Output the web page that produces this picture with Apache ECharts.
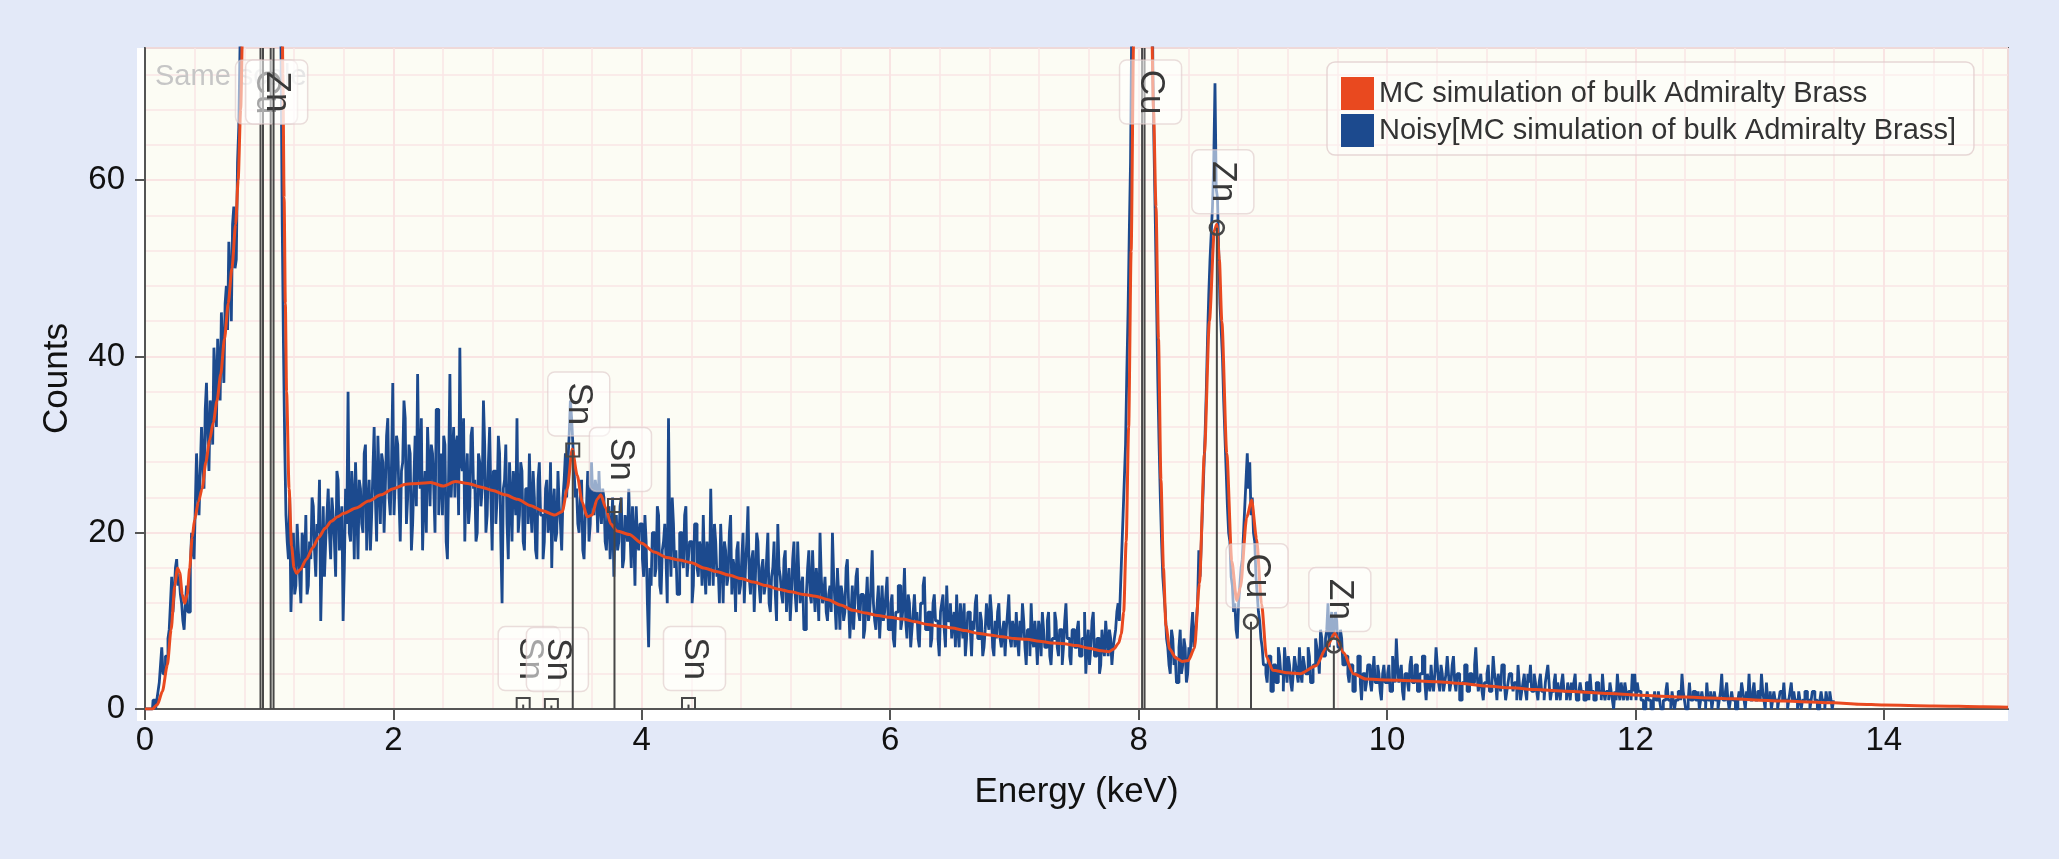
<!DOCTYPE html>
<html>
<head>
<meta charset="utf-8">
<title>Admiralty Brass spectrum</title>
<script src="https://cdn.jsdelivr.net/npm/echarts@6/dist/echarts.min.js"></script>
<style>
  html, body { margin: 0; padding: 0; background: #e3e9f8; }
  #chart { width: 2059px; height: 859px; }
</style>
</head>
<body>
<div id="chart"></div>
<script>
// axis ranges
const xMax = 15;
const yMax = 75;

// noisy spectrum: one count per 10 eV channel, starting at 0 keV
const channelWidth = 0.01;
const noisyCounts = [
  // 0.0 - 0.49
  0,0,0,0,0,0,0,1,1,0,1,2,3,5,7,4,4,6,6,8,9,12,15,11,13,16,17,14,15,13,12,10,9,12,14,11,11,16,20,18,17,23,29,25,22,27,32,28,25,34,
  // 0.5 - 0.99
  37,31,27,35,34,30,41,38,32,42,39,35,45,41,37,46,48,43,53,49,44,55,57,50,51,62,66,75,95,130,170,240,320,420,520,650,780,900,1050,1150,1250,1280,1300,1220,1150,1050,980,950,930,940,
  // 1.0 - 1.49
  960,940,900,780,640,480,330,230,150,110,75,55,41,30,22,19,17,24,11,16,20,13,14,21,18,15,12,20,19,16,22,13,14,19,17,24,23,18,15,21,20,26,10,17,23,15,19,22,25,20,
  // 1.5 - 1.99
  17,24,22,19,15,27,26,18,21,23,10,16,25,21,36,20,19,27,24,17,28,23,17,26,25,21,20,29,30,18,23,26,18,22,27,32,24,19,31,26,21,29,28,20,25,31,33,24,22,28,
  // 2.0 - 2.49
  37,22,26,31,30,24,19,27,28,35,33,21,24,30,29,18,21,26,31,23,38,27,25,33,18,24,27,20,32,28,23,30,29,25,20,34,34,22,26,29,22,31,30,19,17,27,38,24,28,32,
  // 2.5 - 2.99
  24,30,31,22,41,28,27,33,19,26,29,21,23,31,32,25,26,19,20,29,28,23,25,35,30,20,22,28,32,24,18,27,27,21,24,31,29,19,12,25,26,30,21,17,28,24,19,27,25,22,
  // 3.0 - 3.49
  33,20,22,28,27,19,18,25,25,21,29,23,20,27,24,18,17,26,28,22,22,17,19,25,26,20,21,28,16,23,25,19,20,27,23,21,18,24,26,29,24,28,31,35,33,30,27,24,25,21,
  // 3.5 - 3.99
  20,24,26,18,17,22,23,27,19,21,28,24,22,26,25,20,27,23,21,25,24,19,18,22,23,17,20,24,15,21,22,18,19,23,24,16,17,22,21,19,25,20,16,23,20,14,23,19,18,21,
  // 4.0 - 4.49
  21,17,15,22,19,12,7,16,14,20,20,15,16,23,22,14,13,18,19,21,17,12,33,19,15,24,21,16,18,13,13,20,20,17,16,22,23,15,17,19,19,12,14,21,21,16,15,19,18,14,
  // 4.5 - 4.99
  22,16,13,19,17,14,25,18,14,21,19,15,16,12,21,17,12,19,18,14,15,20,22,13,17,16,11,18,19,13,14,17,20,12,16,19,23,15,13,17,18,11,15,20,19,14,12,16,17,13,
  // 5.0 - 5.49
  14,17,20,12,11,15,16,19,13,10,21,16,15,13,12,17,18,11,14,16,10,13,17,19,13,11,19,15,12,14,15,9,9,13,16,18,13,12,18,14,11,16,14,10,20,15,12,13,15,11,
  // 5.5 - 5.99
  10,13,14,11,20,15,12,9,16,13,9,14,13,10,11,16,17,12,8,11,14,9,12,15,16,11,10,13,13,8,9,12,15,10,11,14,18,12,10,9,12,14,8,11,14,10,11,13,15,9,
  // 6.0 - 6.49
  9,12,13,8,7,11,11,14,14,9,10,12,16,10,8,13,12,7,9,11,13,10,11,8,7,12,12,14,15,9,9,11,11,7,8,12,13,10,10,8,6,11,12,13,9,7,14,10,10,12,
  // 6.5 - 6.99
  8,10,11,7,13,9,7,12,10,8,12,6,8,11,11,9,6,10,9,12,13,8,8,11,10,6,7,9,12,10,9,13,11,7,6,10,8,11,12,8,7,9,10,6,9,11,13,8,7,10,
  // 7.0 - 7.49
  9,7,11,8,6,10,8,12,10,7,5,9,9,6,12,8,7,10,8,5,10,9,6,11,9,7,7,10,11,6,5,8,8,11,10,7,6,9,9,5,7,10,12,8,8,6,5,9,9,7,
  // 7.5 - 7.99
  7,9,10,6,6,8,8,11,4,7,9,5,7,10,11,6,6,8,8,4,5,9,7,6,10,8,6,9,8,5,7,8,9,11,12,10,14,18,22,26,30,38,45,54,62,78,95,115,140,200,
  // 8.0 - 8.49
  260,330,380,410,420,390,350,290,220,170,120,95,72,63,55,46,37,30,24,19,15,13,11,8,7,5,4,9,8,5,6,3,3,7,9,4,5,8,7,3,4,7,6,9,11,7,8,10,12,18,
  // 8.5 - 8.99
  15,19,23,27,31,36,42,47,51,54,57,62,71,59,58,52,46,43,40,35,31,27,23,20,19,15,14,11,12,9,8,12,14,16,17,20,23,26,29,25,28,22,24,20,19,15,13,11,10,8,
  // 9.0 - 9.49
  7,5,5,4,3,6,6,2,2,5,5,3,3,7,6,4,4,2,7,5,3,6,5,3,2,4,6,5,4,3,7,4,3,6,5,4,4,7,6,3,3,5,5,8,7,6,4,9,8,6,
  // 9.5 - 9.99
  6,8,9,12,7,10,11,8,9,11,10,7,7,9,8,5,5,6,6,4,3,5,5,2,2,4,4,6,6,3,1,4,4,2,3,5,5,3,2,4,6,3,3,5,4,2,1,4,5,3,
  // 10.0 - 10.49
  3,4,5,2,2,6,4,3,8,5,3,4,5,2,1,4,4,3,2,5,6,3,3,5,5,2,2,4,4,6,6,3,1,4,3,2,5,3,2,4,7,5,3,2,5,4,2,3,4,6,
  // 10.5 - 10.99
  4,2,3,5,6,3,2,4,4,1,1,3,3,5,5,2,2,4,4,3,3,5,7,4,2,3,4,2,1,3,3,4,5,2,2,3,6,4,3,1,4,3,2,5,5,3,1,2,3,4,
  // 11.0 - 11.49
  4,3,2,3,3,1,5,3,1,2,3,4,2,1,4,3,5,2,2,4,3,2,1,3,4,2,2,1,3,4,5,3,1,2,2,3,4,1,3,2,1,3,4,2,2,1,3,2,1,3,
  // 11.5 - 11.99
  2,3,4,1,1,2,3,2,2,1,1,3,3,1,4,2,2,1,1,3,3,2,2,1,4,2,1,2,2,1,3,2,1,0,2,1,4,2,1,3,2,1,3,2,1,2,2,1,4,2,
  // 12.0 - 12.49
  4,1,3,2,2,1,1,0,0,1,2,1,1,0,0,1,2,1,1,2,1,0,0,1,1,2,3,1,1,0,2,1,0,1,1,2,2,1,4,2,1,0,0,1,3,1,1,2,2,1,
  // 12.5 - 12.99
  1,2,0,1,2,1,1,0,3,1,1,2,0,1,2,1,1,0,1,2,4,1,1,2,3,1,0,1,2,1,1,0,0,1,2,1,3,2,1,0,2,1,4,1,1,2,3,1,1,2,
  // 13.0 - 13.6
  2,1,4,2,1,0,3,1,1,2,0,1,2,1,1,0,1,2,2,1,3,1,1,0,1,2,3,1,2,1,1,0,2,1,0,1,1,2,2,1,1,0,1,2,2,1,1,0,0,1,2,1,1,0,2,1,1,2,1,0,1
];

// MC simulation curve
const mcEnergy = [
  0, 0.06, 0.1, 0.14, 0.18, 0.21, 0.24, 0.26, 0.28, 0.3, 0.32, 0.34, 0.36, 0.38, 0.4,
  0.43, 0.46, 0.49, 0.52, 0.55, 0.58, 0.61, 0.64, 0.67, 0.7, 0.73, 0.75, 0.77, 0.79, 0.81,
  0.85, 0.93, 1.01, 1.06, 1.09, 1.1, 1.11, 1.12, 1.13, 1.14, 1.16, 1.18, 1.2, 1.22, 1.25,
  1.3, 1.35, 1.4, 1.45, 1.5, 1.55, 1.6, 1.7, 1.8, 1.9, 2.0, 2.1, 2.2, 2.3, 2.4,
  2.5, 2.6, 2.7, 2.8, 2.9, 3.0, 3.1, 3.2, 3.3, 3.36, 3.4, 3.44, 3.48, 3.52, 3.56,
  3.6, 3.64, 3.67, 3.71, 3.75, 3.8, 3.9, 4.0, 4.1, 4.2, 4.3, 4.4, 4.5, 4.6, 4.7,
  4.8, 4.9, 5.0, 5.1, 5.2, 5.3, 5.4, 5.5, 5.6, 5.7, 5.8, 5.9, 6.0, 6.1, 6.2,
  6.3, 6.4, 6.5, 6.6, 6.7, 6.8, 6.9, 7.0, 7.1, 7.2, 7.3, 7.4, 7.5, 7.6, 7.7,
  7.76, 7.8, 7.84, 7.86, 7.88, 7.9, 7.92, 7.94, 7.96, 7.98, 8.04, 8.08, 8.1, 8.12, 8.14,
  8.16, 8.18, 8.2, 8.22, 8.25, 8.3, 8.35, 8.4, 8.45, 8.49, 8.53, 8.57, 8.61, 8.63, 8.65,
  8.67, 8.71, 8.75, 8.79, 8.82, 8.87, 8.91, 8.95, 8.99, 9.03, 9.08, 9.2, 9.3, 9.43, 9.51,
  9.58, 9.65, 9.73, 9.83, 10.0, 10.2, 10.4, 10.6, 10.8, 11.0, 11.2, 11.4, 11.6, 11.8, 12.0,
  12.2, 12.4, 12.6, 12.8, 13.0, 13.2, 13.4, 13.6, 13.8, 14.0, 14.4, 14.8, 15.0
];
const mcCounts = [
  0, 0, 0.5, 2, 5, 9, 14, 16, 15.5, 13, 12, 13, 16, 19.5, 21.5,
  23.5, 25, 28, 30.5, 32.5, 35, 38, 42, 46, 50, 55, 60, 68, 80, 110,
  200, 600, 500, 200, 110, 90, 72, 58, 46, 36, 25, 18.5, 16, 15.4, 15.8,
  17, 18.3, 19.5, 20.5, 21.3, 21.8, 22.2, 22.8, 23.6, 24.3, 25, 25.5, 25.6, 25.7, 25.3,
  25.8, 25.6, 25.2, 24.8, 24.3, 23.8, 23.1, 22.5, 22, 22.4, 25, 29.5, 26.5, 23.5, 21.8,
  22, 23.8, 24.3, 22.8, 21, 20.2, 19.8, 18.8, 17.8, 17.2, 16.9, 16.6, 16, 15.6, 15.2,
  14.8, 14.4, 14, 13.6, 13.3, 13, 12.8, 12.4, 11.8, 11.2, 10.9, 10.6, 10.4, 10.2, 9.9,
  9.6, 9.4, 9.2, 8.9, 8.6, 8.4, 8.2, 8, 7.9, 7.7, 7.5, 7.4, 7.2, 6.9, 6.6,
  6.5, 6.8, 7.5, 8.5, 11, 19, 32, 52, 76, 110, 400, 120, 82, 68, 57,
  42, 26, 16, 9.5, 6.8, 5.8, 5.4, 5.5, 6.9, 14.3, 29, 44, 54.3, 55, 51,
  44, 29, 16.8, 12.3, 13.8, 21.7, 23.7, 19.3, 11.9, 5.9, 4.4, 4.1, 4, 4.9, 6.9,
  8.6, 6.4, 4, 3.4, 3.3, 3.2, 3.1, 2.9, 2.6, 2.4, 2.2, 2.05, 1.9, 1.75, 1.6,
  1.45, 1.35, 1.25, 1.15, 1.0, 0.9, 0.8, 0.7, 0.55, 0.45, 0.35, 0.25, 0.2
];

// element line markers
const markerEnergy = [0.930, 0.950, 1.012, 1.035, 3.045, 3.272, 3.444, 3.78, 4.376, 8.028, 8.048, 8.63, 8.905, 9.572];
const markerHeight = [75, 75, 75, 75, 0.5, 0.4, 29.4, 23.1, 0.5, 75, 75, 54.6, 9.9, 7.2];
const markerLabel  = ['Cu', '', 'Zn', '', 'Sn', 'Sn', 'Sn', 'Sn', 'Sn', '', 'Cu', 'Zn', 'Cu', 'Zn'];
const markerSymbol = ['none', 'none', 'none', 'none', 'rect', 'rect', 'rect', 'rect', 'rect', 'none', 'none', 'circle', 'circle', 'circle'];

const mcName = 'MC simulation of bulk Admiralty Brass';
const noisyName = 'Noisy[MC simulation of bulk Admiralty Brass]';
const font = "'Liberation Sans', Arial, Helvetica, sans-serif";

const gridLeft = 145, gridTop = 48, gridRight = 51, gridBottom = 150;

const chart = echarts.init(document.getElementById('chart'));

// 数据转换
const noisyData = noisyCounts.map(function (c, i) {
  return [+(i * channelWidth).toFixed(2), c];
});
const mcData = mcEnergy.map(function (e, i) {
  return [e, mcCounts[i]];
});
const markerData = markerEnergy.map(function (e, i) {
  return [e, markerHeight[i]];
});

function renderMarker(params, api) {
  const i = params.dataIndex;
  const e = api.value(0);
  const h = Math.min(api.value(1), yMax);
  const base = api.coord([e, 0]);
  const top = api.coord([e, h]);
  const ink = '#474747';
  const children = [{
    type: 'line',
    shape: {x1: base[0], y1: base[1], x2: top[0], y2: top[1]},
    style: {stroke: ink, lineWidth: 2}
  }];
  const sym = markerSymbol[i];
  if (sym === 'circle') {
    children.push({
      type: 'circle',
      shape: {cx: top[0], cy: top[1], r: 7},
      style: {fill: 'none', stroke: ink, lineWidth: 2.5}
    });
  } else if (sym === 'rect') {
    children.push({
      type: 'rect',
      shape: {x: top[0] - 6.5, y: top[1] - 6.5, width: 13, height: 13},
      style: {fill: 'none', stroke: ink, lineWidth: 2}
    });
  }
  const label = markerLabel[i];
  if (label) {
    const boxW = 62, boxH = 64;
    const cx = top[0] + 6;
    const boxTop = sym === 'none' ? api.coord([e, yMax])[1] + 12 : top[1] - 14 - boxH;
    children.push({
      type: 'rect',
      shape: {x: cx - boxW / 2, y: boxTop, width: boxW, height: boxH, r: 7},
      style: {fill: 'rgba(255,255,255,0.55)', stroke: 'rgba(222,200,200,0.6)', lineWidth: 1.5}
    });
    children.push({
      type: 'text',
      x: cx,
      y: boxTop + boxH / 2,
      rotation: -Math.PI / 2,
      style: {
        text: label, fill: '#383838', fontSize: 35, fontFamily: font,
        align: 'center', verticalAlign: 'middle'
      }
    });
  }
  return {type: 'group', children: children};
}

const option = {
  animation: false,
  backgroundColor: '#e3e9f8',
  textStyle: {fontFamily: font},
  grid: {
    left: gridLeft, top: gridTop, right: gridRight, bottom: gridBottom,
    show: true, backgroundColor: '#fcfcf4', borderColor: '#555', borderWidth: 2
  },
  graphic: [
    {
      // white band round the plotting area
      type: 'rect', z: -10, silent: true,
      shape: {x: gridLeft - 8, y: gridTop, width: 2059 - gridRight - gridLeft + 8, height: 859 - gridBottom - gridTop + 12},
      style: {fill: '#ffffff'}
    },
    {
      type: 'text', z: 1, silent: true,
      left: 155, top: 62,
      style: {text: 'Same scale', fill: '#c6c6c6', fontSize: 29, fontFamily: font}
    }
  ],
  legend: {
    data: [mcName, noisyName],
    orient: 'vertical',
    left: 1327, top: 62,
    padding: [15, 18, 8, 14],
    itemWidth: 33, itemHeight: 33, itemGap: 4, itemTextGap: 7,
    icon: 'rect',
    backgroundColor: 'rgba(255,255,255,0.35)',
    borderColor: 'rgba(225,205,205,0.8)', borderWidth: 1.5, borderRadius: 8,
    textStyle: {fontSize: 29, color: '#333', fontFamily: font}
  },
  xAxis: [
    {
      type: 'value', min: 0, max: xMax, interval: 2,
      name: 'Energy (keV)', nameLocation: 'middle', nameGap: 66,
      nameTextStyle: {fontSize: 35, color: '#111', fontFamily: font},
      axisLine: {show: true, onZero: false, lineStyle: {color: '#555', width: 2}},
      axisTick: {show: true, length: 11, lineStyle: {color: '#555', width: 2}},
      axisLabel: {fontSize: 33, color: '#111', margin: 15, showMaxLabel: false, fontFamily: font},
      splitLine: {show: true, lineStyle: {color: '#f6d5d5', width: 1.5}}
    },
    {
      type: 'value', min: 0, max: xMax, interval: 0.4, position: 'top',
      axisLine: {show: false}, axisTick: {show: false}, axisLabel: {show: false},
      splitLine: {show: true, lineStyle: {color: '#fae6e6', width: 1.5}}
    }
  ],
  yAxis: [
    {
      type: 'value', min: 0, max: yMax, interval: 20,
      name: 'Counts', nameLocation: 'middle', nameGap: 70,
      nameTextStyle: {fontSize: 35, color: '#111', fontFamily: font},
      axisLine: {show: true, onZero: false, lineStyle: {color: '#555', width: 2}},
      axisTick: {show: true, length: 10, lineStyle: {color: '#555', width: 2}},
      axisLabel: {fontSize: 33, color: '#111', margin: 20, showMaxLabel: false, fontFamily: font},
      splitLine: {show: true, lineStyle: {color: '#f6d5d5', width: 1.5}}
    },
    {
      type: 'value', min: 0, max: yMax, interval: 4, position: 'right',
      axisLine: {show: false}, axisTick: {show: false}, axisLabel: {show: false},
      splitLine: {show: true, lineStyle: {color: '#fae6e6', width: 1.5}}
    }
  ],
  series: [
    {
      name: noisyName, type: 'line', step: 'middle', data: noisyData,
      showSymbol: false, z: 2,
      lineStyle: {color: '#1c4a8e', width: 2.8},
      itemStyle: {color: '#1c4a8e'}
    },
    {
      name: mcName, type: 'line', data: mcData,
      smooth: 0.25, smoothMonotone: 'x',
      showSymbol: false, z: 3,
      lineStyle: {color: '#e9491f', width: 3},
      itemStyle: {color: '#e9491f'}
    },
    {
      name: 'lines', type: 'custom', data: markerData, z: 5, clip: true,
      renderItem: renderMarker, silent: true
    }
  ]
};

chart.setOption(option);
</script>
</body>
</html>
